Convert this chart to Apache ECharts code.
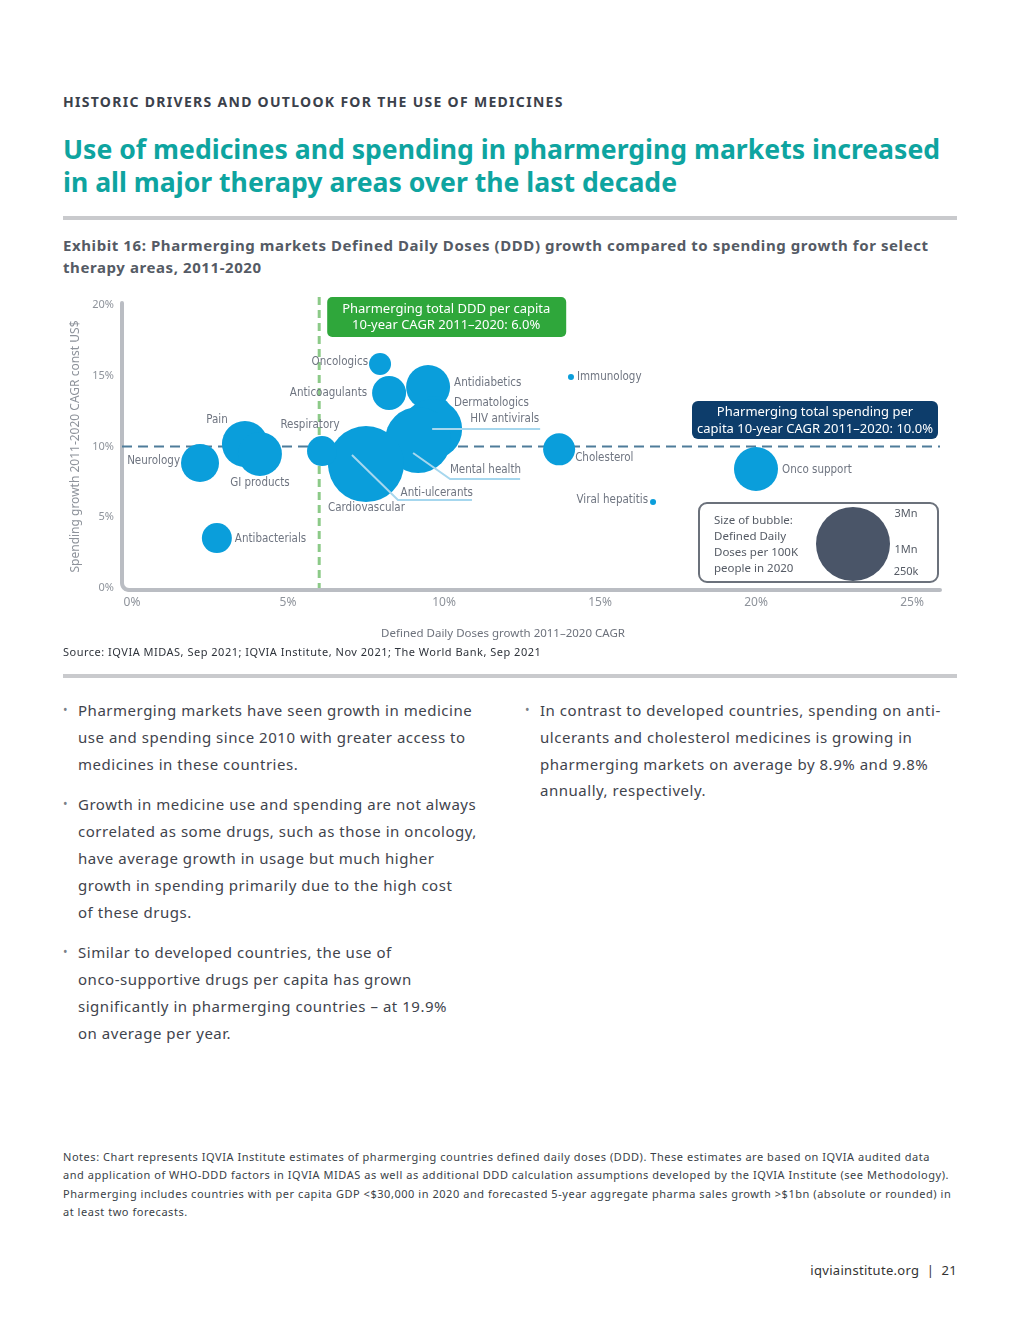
<!DOCTYPE html>
<html><head><meta charset="utf-8">
<script src="https://cdn.jsdelivr.net/npm/echarts@6/dist/echarts.min.js"></script>
<style>
html,body{margin:0;padding:0;background:#fff;}
body{width:1020px;height:1320px;position:relative;font-family:'Noto Sans',sans-serif;overflow:hidden;}
.abs{position:absolute;}
#kicker{left:63px;top:92px;font-size:14px;font-weight:700;color:#3b414b;letter-spacing:1.3px;white-space:nowrap;}
#title{left:63px;top:133px;font-size:26.6px;font-weight:700;color:#0ea4a0;line-height:33px;white-space:nowrap;}
.rule{left:63px;width:894px;height:4px;background:#c9cacd;}
#exhibit{left:63px;top:234px;font-size:15px;font-weight:700;color:#555b65;line-height:22px;letter-spacing:0.58px;white-space:nowrap;}
#chart{left:0;top:280px;width:1020px;height:400px;}
#source{left:63px;top:644px;font-size:11px;color:#2f343c;letter-spacing:0.5px;white-space:nowrap;}
.col{font-size:15px;color:#3f444d;line-height:26.8px;letter-spacing:0.52px;white-space:nowrap;}
.col p{margin:0 0 14px 0;position:relative;padding-left:15px;}
.col p:before{content:'•';position:absolute;left:0;top:0;color:#7a7f88;font-size:12px;}
#notes{left:63px;top:1148px;font-size:11px;line-height:18.4px;color:#3a3f47;letter-spacing:0.54px;white-space:nowrap;}
#footer{right:63px;top:1261px;font-size:13px;color:#333;letter-spacing:0.3px;white-space:nowrap;}
</style></head>
<body>
<div id="kicker" class="abs">HISTORIC DRIVERS AND OUTLOOK FOR THE USE OF MEDICINES</div>
<div id="title" class="abs">Use of medicines and spending in pharmerging markets increased<br>in all major therapy areas over the last decade</div>
<div class="abs rule" style="top:216px"></div>
<div id="exhibit" class="abs">Exhibit 16: Pharmerging markets Defined Daily Doses (DDD) growth compared to spending growth for select<br>therapy areas, 2011-2020</div>
<div id="chart" class="abs"></div>
<div id="source" class="abs">Source: IQVIA MIDAS, Sep 2021; IQVIA Institute, Nov 2021; The World Bank, Sep 2021</div>
<div class="abs rule" style="top:674px"></div>
<div class="abs col" style="left:63px;top:697px;">
<p>Pharmerging markets have seen growth in medicine<br>use and spending since 2010 with greater access to<br>medicines in these countries.</p>
<p>Growth in medicine use and spending are not always<br>correlated as some drugs, such as those in oncology,<br>have average growth in usage but much higher<br>growth in spending primarily due to the high cost<br>of these drugs.</p>
<p>Similar to developed countries, the use of<br>onco-supportive drugs per capita has grown<br>significantly in pharmerging countries – at 19.9%<br>on average per year.</p>
</div>
<div class="abs col" style="left:525px;top:697px;">
<p>In contrast to developed countries, spending on anti-<br>ulcerants and cholesterol medicines is growing in<br>pharmerging markets on average by 8.9% and 9.8%<br>annually, respectively.</p>
</div>
<div id="notes" class="abs">Notes: Chart represents IQVIA Institute estimates of pharmerging countries defined daily doses (DDD). These estimates are based on IQVIA audited data<br>and application of WHO-DDD factors in IQVIA MIDAS as well as additional DDD calculation assumptions developed by the IQVIA Institute (see Methodology).<br>Pharmerging includes countries with per capita GDP &lt;$30,000 in 2020 and forecasted 5-year aggregate pharma sales growth &gt;$1bn (absolute or rounded) in<br>at least two forecasts.</div>
<div id="footer" class="abs">iqviainstitute.org &nbsp;|&nbsp; 21</div>
<script>
// ---- data ----
const therapyAreas = ['Oncologics','Anticoagulants','Antidiabetics','Dermatologics','HIV antivirals','Mental health','Anti-ulcerants','Cardiovascular','Respiratory','Pain','GI products','Neurology','Antibacterials','Immunology','Cholesterol','Viral hepatitis','Onco support'];
const dddGrowth   = [7.95, 8.24, 9.49, 9.68, 9.62, 9.17, 7.05, 7.5, 6.09, 3.62, 4.1, 2.18, 2.72, 14.07, 13.69, 16.7, 20.0];
const spendGrowth = [15.83, 13.78, 14.2, 12.3, 11.24, 10.46, 8.9, 8.76, 9.68, 10.18, 9.47, 8.83, 3.53, 14.91, 9.8, 6.08, 8.41];
const dddPer100k  = [265, 633, 1061, 710, 1972, 2386, 1262, 3164, 493, 1159, 1061, 791, 493, 20, 561, 20, 1061]; // thousands
const xTicks = [0, 5, 10, 15, 20, 25];
const yTicks = [0, 5, 10, 15, 20];
const avgDDD = 6.0;
const avgSpend = 10.0;
const legendSizes = [3000, 1000, 250];
const legendLabels = ['3Mn', '1Mn', '250k'];

// ---- styling / layout ----
const NARROW = "'Liberation Sans Narrow','DejaVu Sans Condensed',sans-serif";
const R3M = 37; // bubble radius for 3Mn
const sizeOf = v => 2 * R3M * Math.sqrt(v / 3000);
const BLUE = '#0a9edb';
const LABEL = '#6f7581';
const labelLayout = {
  'Oncologics': [-12, -2, 'right'], 'Anticoagulants': [-22, 0, 'right'], 'Antidiabetics': [26, -4, 'left'],
  'Dermatologics': [20, -11, 'left'], 'Cardiovascular': [-38, 44, 'left'], 'Respiratory': [-12, -26, 'center'],
  'Pain': [-28, -24, 'center'], 'GI products': [0, 29, 'center'], 'Neurology': [-20, -2, 'right'],
  'Antibacterials': [18, 1, 'left'], 'Immunology': [6, 0, 'left'], 'Cholesterol': [16, 9, 'left'],
  'Viral hepatitis': [-5, -2, 'right'], 'Onco support': [26, 1, 'left'],
  'HIV antivirals': [107, -10, 'right'], 'Mental health': [103, 30, 'right'], 'Anti-ulcerants': [121, 31, 'right']
};
const leaderLayout = {
  'HIV antivirals': [[0, 0], [108, 0]],
  'Mental health': [[-5, 13], [32, 39], [102, 39]],
  'Anti-ulcerants': [[0, -7], [46, 38], [120, 38]]
};

const chart = echarts.init(document.getElementById('chart'), null, {renderer: 'canvas'});
const data = therapyAreas.map((n, i) => ({name: n, value: [dddGrowth[i], spendGrowth[i], dddPer100k[i]]}));
chart.setOption({
  animation: false,
  grid: {left: 132, right: 108, top: 25, bottom: 92},
  xAxis: {
    type: 'value', min: xTicks[0], max: xTicks[xTicks.length - 1], interval: 5,
    axisLine: {show: false}, axisTick: {show: false}, splitLine: {show: false},
    axisLabel: {formatter: '{value}%', color: '#8e939b', fontSize: 12, fontFamily: 'Noto Sans', margin: 9},
    name: 'Defined Daily Doses growth 2011–2020 CAGR', nameLocation: 'middle', nameGap: 40,
    nameTextStyle: {color: '#6d727c', fontSize: 11.5, fontFamily: 'Noto Sans', padding: [0, 38, 0, 0]}
  },
  yAxis: {
    type: 'value', min: yTicks[0], max: yTicks[yTicks.length - 1], interval: 5,
    axisLine: {show: false}, axisTick: {show: false}, splitLine: {show: false},
    axisLabel: {formatter: '{value}%', color: '#8e939b', fontSize: 11, fontFamily: 'Noto Sans', margin: 18},
    name: 'Spending growth 2011-2020 CAGR const US$', nameLocation: 'middle', nameGap: 49,
    nameTextStyle: {color: '#8e939b', fontSize: 12, fontFamily: 'Noto Sans'}
  },
  series: [{
    type: 'scatter', data: data, clip: false, z: 2,
    symbolSize: v => sizeOf(v[2]),
    itemStyle: {color: BLUE, opacity: 1},
    emphasis: {disabled: true}
  }]
});

const px = v => chart.convertToPixel({xAxisIndex: 0}, v);
const py = v => chart.convertToPixel({yAxisIndex: 0}, v);
const g = [];
// axis frame (rounded L)
const ax = px(0) - 10, ayTop = py(20) - 2, ay0 = py(0) + 2, axEnd = px(25) + 28;
const cr = 7, frame = [[ax, ayTop]];
for (let k = 0; k <= 6; k++) { const a = Math.PI - k * Math.PI / 12; frame.push([ax + cr + cr * Math.cos(a), ay0 - cr + cr * Math.sin(a)]); }
frame.push([axEnd, ay0]);
g.push({type: 'polyline', z: 1, shape: {points: frame}, style: {stroke: '#babdc3', lineWidth: 4, fill: null, lineCap: 'round', lineJoin: 'round'}});
// reference lines
g.push({type: 'line', z: 1, shape: {x1: ax, y1: py(avgSpend), x2: axEnd, y2: py(avgSpend)},
  style: {stroke: '#4e7c9a', lineWidth: 2, lineDash: [10, 6]}});
g.push({type: 'line', z: 1, shape: {x1: px(avgDDD), y1: 17, x2: px(avgDDD), y2: py(0)},
  style: {stroke: '#8cca88', lineWidth: 3, lineDash: [8, 5]}});
// green box
g.push({type: 'rect', z: 100, shape: {x: px(avgDDD) + 8, y: 17, width: 239, height: 40, r: 5}, style: {fill: '#2fa73b'}});
g.push({type: 'text', z: 101, style: {x: px(avgDDD) + 127, y: 37, text: 'Pharmerging total DDD per capita\n10-year CAGR 2011–2020: ' + avgDDD.toFixed(1) + '%',
  fill: '#fff', font: '13px "Noto Sans"', align: 'center', verticalAlign: 'middle', lineHeight: 16}});
// navy box
g.push({type: 'rect', z: 100, shape: {x: 692, y: 121, width: 246, height: 38, r: 6}, style: {fill: '#0d3d6b'}});
g.push({type: 'text', z: 101, style: {x: 815, y: 141, text: 'Pharmerging total spending per\ncapita 10-year CAGR 2011–2020: ' + avgSpend.toFixed(1) + '%',
  fill: '#fff', font: '13px "Noto Sans"', align: 'center', verticalAlign: 'middle', lineHeight: 17}});
// size legend box
g.push({type: 'rect', z: 100, shape: {x: 699, y: 223, width: 239, height: 79, r: 8}, style: {fill: '#fff', stroke: '#6b717b', lineWidth: 2}});
g.push({type: 'text', z: 101, style: {x: 714, y: 265, text: 'Size of bubble:\nDefined Daily\nDoses per 100K\npeople in 2020',
  fill: '#555b65', font: '11.5px "Noto Sans"', align: 'left', verticalAlign: 'middle', lineHeight: 16}});
g.push({type: 'circle', z: 101, shape: {cx: 853, cy: 264, r: sizeOf(legendSizes[0]) / 2}, style: {fill: '#4a5568'}});
const legendY = [234, 270, 292];
legendLabels.forEach((t, i) => g.push({type: 'text', z: 102, style: {x: 906, y: legendY[i], text: t,
  fill: '#555b65', font: '11px "Noto Sans"', align: 'center', verticalAlign: 'middle'}}));
// bubble labels & leaders
therapyAreas.forEach((n, i) => {
  const cx = px(dddGrowth[i]), cy = py(spendGrowth[i]);
  const L = leaderLayout[n];
  if (L) {
    g.push({type: 'polyline', z: 50, shape: {points: L.map(p => [cx + p[0], cy + p[1]])},
      style: {stroke: '#a6d7ee', lineWidth: 2, fill: null}});
  }
  const lo = labelLayout[n];
  g.push({type: 'text', z: 60, style: {x: cx + lo[0], y: cy + lo[1], text: n, fill: LABEL,
    font: '11.5px ' + NARROW, align: lo[2], verticalAlign: 'middle'}});
});
chart.setOption({graphic: {elements: g}});
</script>
</body></html>
